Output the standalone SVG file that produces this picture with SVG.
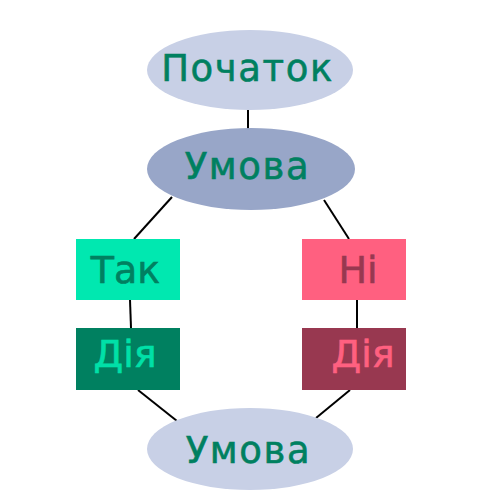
<svg xmlns="http://www.w3.org/2000/svg" width="500" height="500" viewBox="0 0 500 500">
<style>
text{font-family:"DejaVu Sans","Open Sans",sans-serif;text-anchor:middle;stroke-width:0.6px}
.big{font-size:37px;letter-spacing:1.6px}
.box{font-size:38px}
.conn line{stroke:#000;stroke-width:2}
</style>
<rect width="500" height="500" fill="#fff"/>
<g class="conn">
<line x1="248" y1="110" x2="248" y2="129"/>
<line x1="172" y1="197" x2="134" y2="239"/>
<line x1="324" y1="200" x2="349" y2="239"/>
<line x1="130" y1="300" x2="131" y2="328"/>
<line x1="357" y1="300" x2="357" y2="328"/>
<line x1="138" y1="390" x2="177" y2="421"/>
<line x1="350" y1="390" x2="316" y2="418"/>
</g>
<g id="start">
<ellipse cx="250" cy="70" rx="103" ry="40" fill="#c8d0e6"/>
<text x="247.5" y="81" class="big" fill="#008060" stroke="#008060">Початок</text>
</g>
<g id="cond1">
<ellipse cx="251" cy="169" rx="104" ry="41" fill="#98a6c8"/>
<text x="247.5" y="179" class="big" fill="#008060" stroke="#008060">Умова</text>
</g>
<g id="yes">
<rect x="76" y="239" width="104" height="61" fill="#00e8b0"/>
<text x="125.5" y="283" class="box" fill="#008060" stroke="#008060">Так</text>
</g>
<g id="no">
<rect x="302" y="239" width="104" height="61" fill="#ff6080"/>
<text x="358" y="283" class="box" fill="#983850" stroke="#983850">Ні</text>
</g>
<g id="act1">
<rect x="76" y="328" width="104" height="62" fill="#008060"/>
<text x="125" y="367" class="box" fill="#00e0a8" stroke="#00e0a8">Дія</text>
</g>
<g id="act2">
<rect x="302" y="328" width="104" height="62" fill="#983850"/>
<text x="363" y="367" class="box" fill="#ff6080" stroke="#ff6080">Дія</text>
</g>
<g id="cond2">
<ellipse cx="250" cy="449" rx="103" ry="41" fill="#c8d0e6"/>
<text x="248.5" y="463" class="big" fill="#008060" stroke="#008060">Умова</text>
</g>
</svg>
